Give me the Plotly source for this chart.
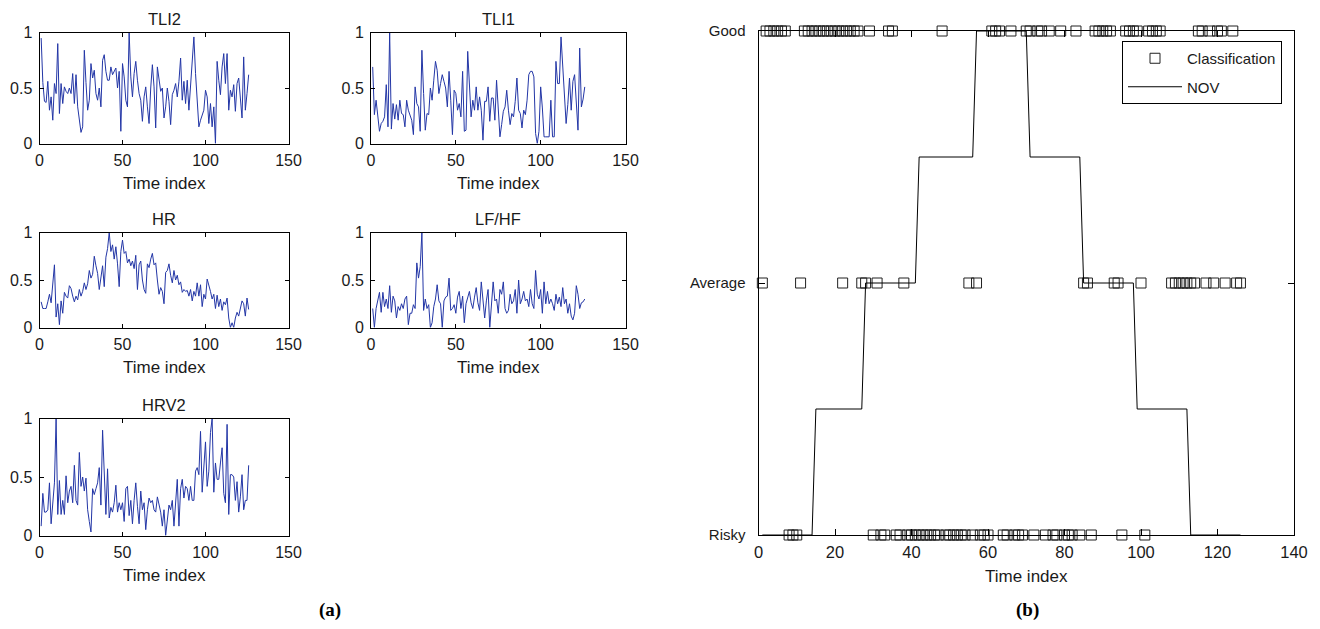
import plotly.graph_objects as go

W, H = 1320, 629

# ---------------- data ----------------
time_index = list(range(1, 127))

tli2 = [0.95, 0.55, 0.38, 0.37, 0.56, 0.30, 0.42, 0.21, 0.54, 0.45,
        0.90, 0.27, 0.54, 0.36, 0.51, 0.47, 0.45, 0.50, 0.45, 0.63,
        0.36, 0.62, 0.33, 0.22, 0.10, 0.15, 0.84, 0.55, 0.30, 0.39,
        0.72, 0.59, 0.66, 0.45, 0.39, 0.50, 0.33, 0.75, 0.80, 0.65,
        0.57, 0.57, 0.69, 0.62, 0.65, 0.68, 0.50, 0.65, 0.11, 0.72,
        0.60, 0.39, 0.33, 1.00, 0.60, 0.42, 0.63, 0.74, 0.57, 0.45,
        0.39, 0.20, 0.42, 0.51, 0.33, 0.18, 0.50, 0.71, 0.51, 0.14,
        0.69, 0.56, 0.47, 0.50, 0.23, 0.33, 0.50, 0.38, 0.17, 0.44,
        0.48, 0.54, 0.42, 0.56, 0.77, 0.39, 0.56, 0.36, 0.57, 0.30,
        0.54, 0.75, 0.96, 0.63, 0.33, 0.15, 0.21, 0.25, 0.30, 0.48,
        0.42, 0.18, 0.36, 0.15, 0.33, 0.00, 0.74, 0.57, 0.44, 0.69,
        0.81, 0.54, 0.81, 0.30, 0.48, 0.42, 0.53, 0.29, 0.54, 0.59,
        0.38, 0.23, 0.78, 0.30, 0.45, 0.62]

tli1 = [0.69, 0.26, 0.39, 0.24, 0.11, 0.18, 0.20, 0.24, 0.53, 0.15,
        1.00, 0.13, 0.36, 0.22, 0.35, 0.21, 0.39, 0.27, 0.26, 0.15,
        0.39, 0.30, 0.26, 0.21, 0.08, 0.51, 0.36, 0.33, 0.11, 0.84,
        0.45, 0.12, 0.27, 0.26, 0.50, 0.39, 0.57, 0.74, 0.66, 0.45,
        0.54, 0.62, 0.56, 0.50, 0.33, 0.65, 0.39, 0.08, 0.48, 0.45,
        0.30, 0.36, 0.24, 0.65, 0.11, 0.12, 0.83, 0.53, 0.24, 0.39,
        0.30, 0.51, 0.30, 0.42, 0.30, 0.03, 0.38, 0.38, 0.51, 0.20,
        0.41, 0.41, 0.21, 0.57, 0.26, 0.06, 0.17, 0.29, 0.33, 0.48,
        0.30, 0.17, 0.27, 0.24, 0.38, 0.59, 0.30, 0.27, 0.14, 0.30,
        0.26, 0.39, 0.62, 0.65, 0.65, 0.60, 0.09, 0.00, 0.11, 0.51,
        0.32, 0.06, 0.06, 0.06, 0.06, 0.39, 0.06, 0.06, 0.74, 0.54,
        0.54, 0.96, 0.70, 0.39, 0.18, 0.35, 0.59, 0.30, 0.56, 0.62,
        0.40, 0.12, 0.86, 0.33, 0.40, 0.51]

hr = [0.27, 0.20, 0.20, 0.20, 0.27, 0.35, 0.26, 0.45, 0.66, 0.11,
      0.25, 0.03, 0.28, 0.15, 0.37, 0.33, 0.31, 0.44, 0.41, 0.33,
      0.27, 0.33, 0.29, 0.40, 0.33, 0.38, 0.47, 0.40, 0.46, 0.60,
      0.52, 0.56, 0.75, 0.65, 0.57, 0.40, 0.55, 0.65, 0.43, 0.74,
      0.83, 1.00, 0.80, 0.87, 0.72, 0.85, 0.67, 0.43, 0.80, 0.92,
      0.78, 0.80, 0.68, 0.72, 0.65, 0.70, 0.62, 0.76, 0.40, 0.66,
      0.70, 0.50, 0.40, 0.36, 0.67, 0.63, 0.72, 0.78, 0.66, 0.68,
      0.50, 0.35, 0.42, 0.38, 0.25, 0.58, 0.60, 0.67, 0.55, 0.47,
      0.60, 0.50, 0.55, 0.45, 0.48, 0.37, 0.40, 0.38, 0.39, 0.33,
      0.40, 0.28, 0.38, 0.33, 0.47, 0.33, 0.45, 0.22, 0.35, 0.30,
      0.51, 0.45, 0.38, 0.30, 0.35, 0.20, 0.34, 0.22, 0.30, 0.18,
      0.27, 0.24, 0.31, 0.10, 0.00, 0.05, 0.00, 0.10, 0.16, 0.12,
      0.22, 0.28, 0.25, 0.12, 0.31, 0.19]

lfhf = [0.20, 0.00, 0.20, 0.30, 0.37, 0.16, 0.37, 0.22, 0.30, 0.20,
        0.44, 0.16, 0.33, 0.28, 0.10, 0.22, 0.18, 0.25, 0.20, 0.30,
        0.33, 0.03, 0.15, 0.15, 0.24, 0.20, 0.68, 0.52, 0.64, 1.00,
        0.18, 0.30, 0.20, 0.24, 0.00, 0.05, 0.22, 0.30, 0.45, 0.28,
        0.25, 0.00, 0.28, 0.32, 0.33, 0.52, 0.18, 0.20, 0.24, 0.15,
        0.32, 0.38, 0.20, 0.33, 0.05, 0.25, 0.33, 0.38, 0.26, 0.20,
        0.32, 0.42, 0.26, 0.18, 0.48, 0.30, 0.10, 0.28, 0.40, 0.00,
        0.20, 0.48, 0.28, 0.30, 0.15, 0.40, 0.35, 0.48, 0.20, 0.15,
        0.18, 0.35, 0.25, 0.28, 0.40, 0.15, 0.50, 0.25, 0.30, 0.38,
        0.28, 0.30, 0.22, 0.40, 0.25, 0.20, 0.60, 0.35, 0.30, 0.40,
        0.15, 0.48, 0.25, 0.38, 0.25, 0.30, 0.25, 0.18, 0.35, 0.25,
        0.32, 0.22, 0.42, 0.25, 0.30, 0.15, 0.25, 0.12, 0.08, 0.15,
        0.44, 0.35, 0.20, 0.26, 0.27, 0.30]

hrv2 = [0.08, 0.36, 0.20, 0.20, 0.22, 0.45, 0.10, 0.28, 0.45, 1.00,
        0.18, 0.47, 0.18, 0.30, 0.18, 0.51, 0.28, 0.38, 0.42, 0.28,
        0.60, 0.30, 0.26, 0.71, 0.42, 0.50, 0.38, 0.49, 0.22, 0.12,
        0.03, 0.40, 0.35, 0.40, 0.45, 0.58, 0.26, 0.90, 0.45, 0.18,
        0.57, 0.15, 0.24, 0.20, 0.28, 0.43, 0.20, 0.28, 0.22, 0.28,
        0.12, 0.40, 0.42, 0.17, 0.30, 0.10, 0.30, 0.45, 0.25, 0.10,
        0.38, 0.22, 0.28, 0.05, 0.22, 0.32, 0.28, 0.30, 0.22, 0.20,
        0.33, 0.25, 0.20, 0.08, 0.22, 0.00, 0.15, 0.26, 0.22, 0.30,
        0.08, 0.25, 0.48, 0.08, 0.40, 0.48, 0.32, 0.42, 0.40, 0.30,
        0.42, 0.30, 0.30, 0.55, 0.58, 0.52, 0.89, 0.37, 0.60, 0.80,
        0.42, 0.55, 0.88, 1.00, 0.37, 0.62, 0.48, 0.48, 0.62, 0.75,
        0.36, 0.28, 0.95, 0.18, 0.52, 0.52, 0.50, 0.30, 0.46, 0.20,
        0.33, 0.52, 0.22, 0.30, 0.30, 0.60]

# classification markers (time index per class)
good_t = [2, 3, 4, 5, 6, 7, 12, 13, 14, 15, 16, 17, 18, 19, 20, 21, 22, 23,
          24, 25, 26, 29, 34, 35, 48, 61, 62, 63, 66, 70, 71, 73, 74, 76, 79,
          83, 88, 89, 90, 91, 92, 96, 97, 98, 99, 102, 103, 104, 105, 115,
          116, 118, 120, 121, 124]
average_t = [1, 11, 22, 27, 28, 31, 38, 55, 57, 85, 86, 93, 94, 100, 108, 109,
             110, 111, 112, 113, 114, 117, 119, 122, 125, 126]
risky_t = [8, 9, 10, 30, 32, 33, 36, 37, 39, 40, 41, 42, 43, 44, 45, 46, 47,
           49, 50, 51, 52, 53, 54, 56, 58, 59, 60, 64, 65, 67, 68, 69, 72, 75,
           77, 78, 80, 81, 82, 84, 87, 95, 101]
class_levels = {"Good": 1.0, "Average": 0.5, "Risky": 0.0}

# NOV step curve (breakpoints)
nov_t = [1, 14, 15, 27, 28, 41, 42, 56, 57, 70, 71, 84, 85, 98, 99, 112, 113, 126]
nov_v = [0, 0, 0.25, 0.25, 0.5, 0.5, 0.75, 0.75, 1, 1, 0.75, 0.75, 0.5, 0.5,
         0.25, 0.25, 0, 0]

left_xticks = [0, 50, 100, 150]
left_yticks = [0, 0.5, 1]
right_xticks = [0, 20, 40, 60, 80, 100, 120, 140]

# ---------------- layout helpers ----------------
def fx(px):
    return px / W


def fy(py):
    return 1 - py / H


FONT = "Liberation Sans, Arial, sans-serif"
BLUE = "#2336a6"
TXT = "#1a1a1a"

# (name, values, left, right, top, bottom) in pixels
panels = [
    ("TLI2", tli2, 39.5, 288.5, 32.5, 143.5),
    ("TLI1", tli1, 371.0, 625.5, 32.5, 143.5),
    ("HR", hr, 39.5, 288.5, 232.5, 327.5),
    ("LF/HF", lfhf, 371.0, 625.5, 232.5, 327.5),
    ("HRV2", hrv2, 39.5, 288.5, 418.5, 535.5),
]

fig = go.Figure()
annotations = []
layout = {}

axis_common = dict(showline=True, linecolor="black", linewidth=1, mirror="ticks",
                   showgrid=False, zeroline=False, automargin=False,
                   ticks="inside", tickcolor="black", tickwidth=1)

for i, (name, vals, l, r, t, b) in enumerate(panels):
    k = "" if i == 0 else str(i + 1)
    fig.add_trace(go.Scatter(x=time_index, y=vals, mode="lines",
                             line=dict(color=BLUE, width=1),
                             xaxis="x" + k, yaxis="y" + k,
                             showlegend=False, hoverinfo="skip"))
    layout["xaxis" + k] = dict(
        domain=[fx(l), fx(r)], range=[0, 150], anchor="y" + k,
        tickvals=left_xticks, ticktext=[str(v) for v in left_xticks],
        ticklen=4, tickfont=dict(family=FONT, size=16, color=TXT),
        ticklabelstandoff=2, **axis_common)
    layout["yaxis" + k] = dict(
        domain=[fy(b), fy(t)], range=[0, 1], anchor="x" + k,
        tickvals=left_yticks, ticktext=["0", "0.5", "1"],
        ticklen=4, tickfont=dict(family=FONT, size=16, color=TXT),
        ticklabelstandoff=3, **axis_common)
    annotations.append(dict(text=name, x=fx((l + r) / 2), y=fy(t - 14),
                            xref="paper", yref="paper", showarrow=False,
                            xanchor="center", yanchor="middle",
                            font=dict(family=FONT, size=16.5, color=TXT)))
    annotations.append(dict(text="Time index", x=fx((l + r) / 2), y=fy(b + 40),
                            xref="paper", yref="paper", showarrow=False,
                            xanchor="center", yanchor="middle",
                            font=dict(family=FONT, size=17, color=TXT)))

# ---------------- right panel ----------------
RL, RR, RT, RB = 758.5, 1294.0, 31.0, 535.0
ck = str(len(panels) + 1)

cls_x = good_t + average_t + risky_t
cls_y = ([class_levels["Good"]] * len(good_t)
         + [class_levels["Average"]] * len(average_t)
         + [class_levels["Risky"]] * len(risky_t))

fig.add_trace(go.Scatter(x=cls_x, y=cls_y, mode="markers", name="Classification",
                         legendgroup="c",
                         marker=dict(symbol="square-open", size=10,
                                     color="#202020", line=dict(width=1)),
                         xaxis="x" + ck, yaxis="y" + ck, cliponaxis=False,
                         hoverinfo="skip"))
fig.add_trace(go.Scatter(x=nov_t, y=nov_v, mode="lines", name="NOV",
                         legendgroup="n",
                         line=dict(color="black", width=1),
                         xaxis="x" + ck, yaxis="y" + ck, cliponaxis=False,
                         hoverinfo="skip"))

layout["xaxis" + ck] = dict(
    domain=[fx(RL), fx(RR)], range=[0, 140], anchor="y" + ck,
    tickvals=right_xticks, ticktext=[str(v) for v in right_xticks],
    ticklen=6, tickfont=dict(family=FONT, size=16.5, color=TXT),
    ticklabelstandoff=2, **axis_common)
layout["yaxis" + ck] = dict(
    domain=[fy(RB), fy(RT)], range=[0, 1], anchor="x" + ck,
    tickvals=[class_levels["Risky"], class_levels["Average"], class_levels["Good"]],
    ticktext=["Risky", "Average", "Good"],
    ticklen=6, tickfont=dict(family=FONT, size=15, color=TXT),
    ticklabelstandoff=9, **axis_common)

annotations.append(dict(text="Time index", x=fx((RL + RR) / 2), y=fy(RB + 41),
                        xref="paper", yref="paper", showarrow=False,
                        xanchor="center", yanchor="middle",
                        font=dict(family=FONT, size=17, color=TXT)))
annotations.append(dict(text="<b>(a)</b>", x=fx(330), y=fy(610),
                        xref="paper", yref="paper", showarrow=False,
                        xanchor="center", yanchor="middle",
                        font=dict(family="Liberation Serif, Times New Roman, serif",
                                  size=19, color="black")))
annotations.append(dict(text="<b>(b)</b>", x=fx(1027), y=fy(610),
                        xref="paper", yref="paper", showarrow=False,
                        xanchor="center", yanchor="middle",
                        font=dict(family="Liberation Serif, Times New Roman, serif",
                                  size=19, color="black")))

fig.update_layout(
    template="none",
    width=W, height=H,
    margin=dict(l=0, r=0, t=0, b=0),
    paper_bgcolor="white", plot_bgcolor="white",
    showlegend=True,
    legend=dict(x=fx(1282), y=fy(41), xanchor="right", yanchor="top",
                bgcolor="white", bordercolor="black", borderwidth=1,
                font=dict(family=FONT, size=15, color=TXT),
                itemwidth=54, tracegroupgap=6),
    annotations=annotations,
    **layout,
)

fig.write_html("out.html",
               config={"displayModeBar": False},
               post_script="document.body.style.margin='0';"
                           "document.body.style.padding='0';")
